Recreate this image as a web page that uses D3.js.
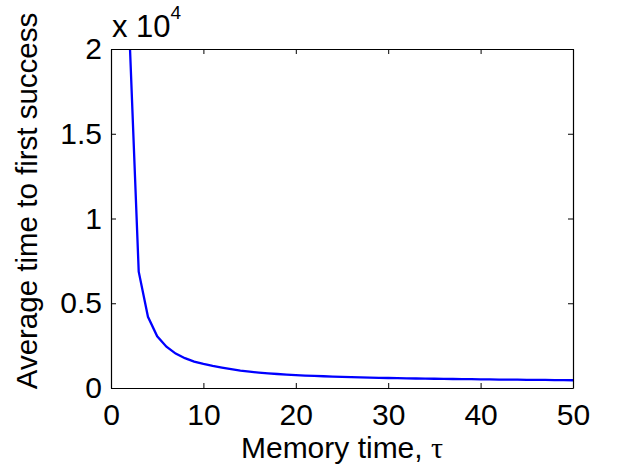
<!DOCTYPE html>
<html>
<head>
<meta charset="utf-8">
<script src="https://cdn.jsdelivr.net/npm/d3@7"></script>
<style>
  body { margin: 0; background: #fff; }
  text { font-family: "Liberation Sans", Arial, sans-serif; fill: #000; }
</style>
</head>
<body>
<div id="chart"></div>
<script>
// memory time tau (x) and average time to first success (y)
var tau = [2, 3, 4, 5, 6, 7, 8, 9, 10, 11, 12, 13, 14, 15, 16, 17, 18, 19, 20,
  21, 22, 23, 24, 25, 26, 27, 28, 29, 30, 31, 32, 33, 34, 35, 36, 37, 38, 39, 40,
  41, 42, 43, 44, 45, 46, 47, 48, 49, 50];
var avgTime = [20800, 6860, 4200, 3050, 2440, 2030, 1760, 1560, 1420, 1300, 1200, 1110, 1030, 965, 910, 865, 825, 790, 760,
  735, 712, 692, 673, 656, 640, 626, 613, 601, 590, 580, 570, 561, 553, 545, 538, 531, 524, 518, 512,
  506, 500, 495, 490, 485, 480, 475, 470, 466, 458];
var xTicks = [0, 10, 20, 30, 40, 50];
var yTicks = [0, 5000, 10000, 15000, 20000];

var W = 617, H = 474;
var margin = { top: 49, right: 44, bottom: 86, left: 111 };
var w = W - margin.left - margin.right;
var h = H - margin.top - margin.bottom;

var svg = d3.select('#chart').append('svg')
  .attr('width', W)
  .attr('height', H);

var g = svg.append('g')
  .attr('transform', 'translate(' + margin.left + ',' + margin.top + ')');

var x = d3.scaleLinear().domain([0, 50]).range([0, w]);
var y = d3.scaleLinear().domain([0, 20000]).range([h, 0]);

// clip the curve to the axes box
g.append('clipPath').attr('id', 'clip')
  .append('rect').attr('width', w).attr('height', h);

var line = d3.line()
  .x(function (d, i) { return x(tau[i]); })
  .y(function (d) { return y(d); });

g.append('path')
  .datum(avgTime)
  .attr('clip-path', 'url(#clip)')
  .attr('fill', 'none')
  .attr('stroke', '#0000ff')
  .attr('stroke-width', 2.3)
  .attr('d', line);

function styleAxis(sel) {
  sel.selectAll('.domain').attr('stroke', '#000').attr('stroke-width', 1.2);
  sel.selectAll('.tick line').attr('stroke', '#000');
  sel.selectAll('text').style('font-size', '30px').attr('fill', '#000');
}

// bottom / left with labels, ticks pointing in
g.append('g')
  .attr('transform', 'translate(0,' + h + ')')
  .call(d3.axisBottom(x).tickValues(xTicks).tickSizeInner(-5).tickSizeOuter(0).tickPadding(16))
  .call(styleAxis);

g.append('g')
  .call(d3.axisLeft(y).tickValues(yTicks).tickSizeInner(-5).tickSizeOuter(0).tickPadding(9)
    .tickFormat(function (d) { return d / 10000; }))
  .call(styleAxis);

// top / right, ticks only
g.append('g')
  .call(d3.axisTop(x).tickValues(xTicks).tickSizeInner(-5).tickSizeOuter(0).tickFormat(''))
  .call(styleAxis);

g.append('g')
  .attr('transform', 'translate(' + w + ',0)')
  .call(d3.axisRight(y).tickValues(yTicks).tickSizeInner(-5).tickSizeOuter(0).tickFormat(''))
  .call(styleAxis);

// exponent label
var ex = svg.append('text')
  .attr('x', margin.left + 1)
  .attr('y', 37)
  .style('font-size', '31px');
ex.append('tspan').text('x 10');
ex.append('tspan').attr('dy', -18).style('font-size', '19px').text('4');

// axis titles
var xl = svg.append('text')
  .attr('x', margin.left + w / 2)
  .attr('y', 458)
  .attr('text-anchor', 'middle')
  .style('font-size', '30px');
xl.append('tspan').text('Memory time, ');
xl.append('tspan').style('font-family', '"Liberation Serif", serif').text('τ');

svg.append('text')
  .attr('transform', 'translate(37,201) rotate(-90)')
  .attr('text-anchor', 'middle')
  .style('font-size', '29.5px')
  .text('Average time to first success');
</script>
</body>
</html>
